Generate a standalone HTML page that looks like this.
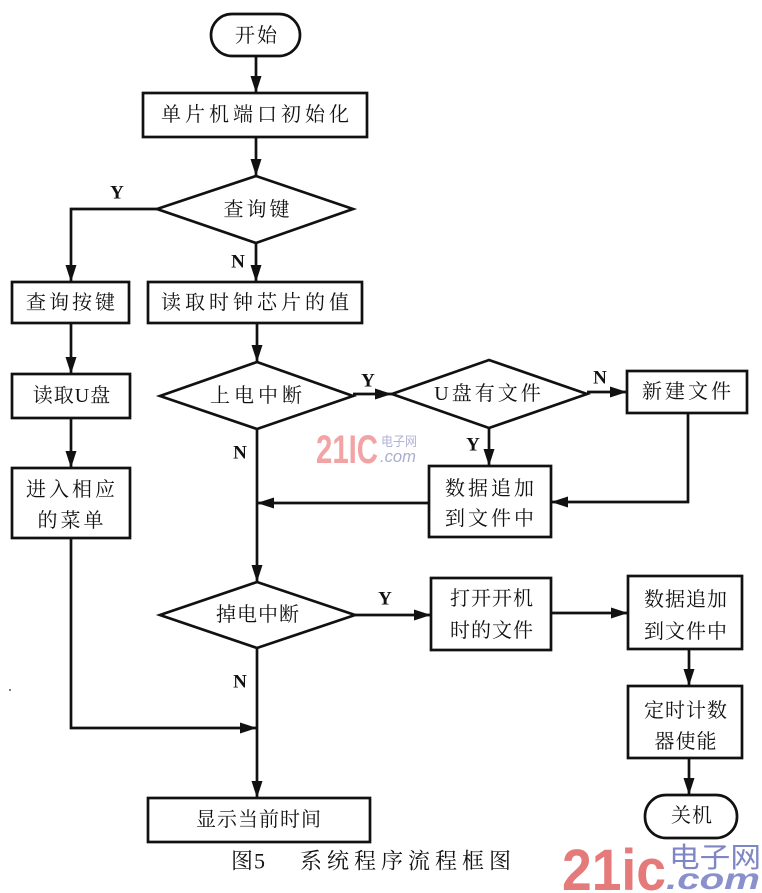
<!DOCTYPE html>
<html>
<head>
<meta charset="utf-8">
<style>
  html,body{margin:0;padding:0;background:#fff;}
  svg{display:block;}
  .t{font-family:"Liberation Serif","Noto Serif CJK SC","Noto Sans CJK SC",serif;font-size:20px;fill:#111;text-anchor:middle;dominant-baseline:central;letter-spacing:2px;}
  .l{font-family:"Liberation Serif",serif;font-size:19px;font-weight:bold;fill:#111;text-anchor:middle;dominant-baseline:central;}
  .cap{font-family:"Liberation Serif","Noto Serif CJK SC",serif;font-size:22px;fill:#111;dominant-baseline:central;letter-spacing:5px;}
</style>
</head>
<body>
<svg width="762" height="893" viewBox="0 0 762 893" xmlns="http://www.w3.org/2000/svg">
  <defs>
    <marker id="a" markerWidth="17" markerHeight="11" refX="17" refY="5.5" orient="auto" markerUnits="userSpaceOnUse">
      <path d="M0,0 L17,5.5 L0,11 Z" fill="#111"/>
    </marker>
  </defs>

  <!-- watermark middle -->
  <text x="316" y="463" font-family="Liberation Sans, sans-serif" font-weight="bold" font-size="40" fill="#f2a3a3" textLength="62" lengthAdjust="spacingAndGlyphs">21IC</text>
  <text x="381" y="446" font-family="Noto Sans CJK SC, sans-serif" font-size="13" fill="#b0b3d4" textLength="36" lengthAdjust="spacingAndGlyphs">电子网</text>
  <text x="380" y="462" font-family="Liberation Sans, sans-serif" font-style="italic" font-size="17" fill="#a9add2" textLength="36" lengthAdjust="spacingAndGlyphs">.com</text>

  <g stroke="#111" stroke-width="2.7" fill="none">
    <!-- start -->
    <rect x="211" y="14" width="89" height="42" rx="21" ry="21"/>
    <line x1="256" y1="56" x2="256" y2="93" marker-end="url(#a)"/>
    <rect x="143" y="93" width="224" height="44"/>
    <line x1="256" y1="137" x2="256" y2="176" marker-end="url(#a)"/>
    <polygon points="256,176 353,209 256,243 157,209"/>
    <!-- Y left -->
    <polyline points="157,209 71,209 71,282" marker-end="url(#a)"/>
    <line x1="256" y1="243" x2="256" y2="282" marker-end="url(#a)"/>
    <rect x="12" y="282" width="117" height="41"/>
    <rect x="148" y="282" width="214" height="41"/>
    <!-- left column -->
    <line x1="71" y1="323" x2="71" y2="374" marker-end="url(#a)"/>
    <rect x="12" y="374" width="118" height="44"/>
    <line x1="71" y1="418" x2="71" y2="468" marker-end="url(#a)"/>
    <rect x="12" y="468" width="118" height="70"/>
    <polyline points="71,538 71,728 257,728" marker-end="url(#a)"/>
    <!-- main -->
    <line x1="257" y1="323" x2="257" y2="362" marker-end="url(#a)"/>
    <polygon points="257,362 353,396 257,429 160,396"/>
    <line x1="353" y1="394" x2="392" y2="394" marker-end="url(#a)"/>
    <polygon points="489,360 587,394 489,428 392,394"/>
    <line x1="587" y1="392" x2="627" y2="392" marker-end="url(#a)"/>
    <rect x="627" y="371" width="120" height="42"/>
    <line x1="489" y1="428" x2="489" y2="466" marker-end="url(#a)"/>
    <rect x="429" y="466" width="122" height="71"/>
    <polyline points="688,413 688,502 551,502" marker-end="url(#a)"/>
    <line x1="429" y1="503" x2="257" y2="503" marker-end="url(#a)"/>
    <line x1="257" y1="429" x2="257" y2="582" marker-end="url(#a)"/>
    <polygon points="257,582 355,615 257,648 160,615"/>
    <line x1="355" y1="615" x2="431" y2="615" marker-end="url(#a)"/>
    <rect x="431" y="578" width="120" height="72"/>
    <line x1="551" y1="613" x2="628" y2="613" marker-end="url(#a)"/>
    <rect x="628" y="576" width="114" height="73"/>
    <line x1="689" y1="649" x2="689" y2="686" marker-end="url(#a)"/>
    <rect x="628" y="686" width="114" height="72"/>
    <line x1="689" y1="758" x2="689" y2="795" marker-end="url(#a)"/>
    <rect x="645" y="795" width="92" height="43" rx="21" ry="21"/>
    <line x1="257" y1="648" x2="257" y2="798" marker-end="url(#a)"/>
    <rect x="148" y="798" width="222" height="44"/>
  </g>

  <!-- labels -->
  <text class="t" x="257" y="36">开始</text>
  <text class="t" x="257" y="115" style="letter-spacing:4px">单片机端口初始化</text>
  <text class="t" x="258" y="210" style="letter-spacing:3px">查询键</text>
  <text class="t" x="72" y="303" style="letter-spacing:3px">查询按键</text>
  <text class="t" x="257" y="303" style="letter-spacing:4px">读取时钟芯片的值</text>
  <text class="t" x="72" y="396" style="letter-spacing:1px">读取U盘</text>
  <text class="t" x="72" y="490" style="letter-spacing:3px">进入相应</text>
  <text class="t" x="72" y="521" style="letter-spacing:3px">的菜单</text>
  <text class="t" x="258" y="396" style="letter-spacing:4px">上电中断</text>
  <text class="t" x="489" y="394" style="letter-spacing:3px">U盘有文件</text>
  <text class="t" x="688" y="392" style="letter-spacing:3px">新建文件</text>
  <text class="t" x="491" y="489" style="letter-spacing:3px">数据追加</text>
  <text class="t" x="491" y="519" style="letter-spacing:3px">到文件中</text>
  <text class="t" x="258" y="615" style="letter-spacing:1px">掉电中断</text>
  <text class="t" x="492" y="599" style="letter-spacing:1px">打开开机</text>
  <text class="t" x="492" y="631" style="letter-spacing:1px">时的文件</text>
  <text class="t" x="686" y="600" style="letter-spacing:1px">数据追加</text>
  <text class="t" x="686" y="632" style="letter-spacing:1px">到文件中</text>
  <text class="t" x="686" y="711" style="letter-spacing:1px">定时计数</text>
  <text class="t" x="686" y="742" style="letter-spacing:1px">器使能</text>
  <text class="t" x="692" y="816" style="letter-spacing:1px">关机</text>
  <text class="t" x="259" y="820" style="letter-spacing:1px">显示当前时间</text>

  <text class="l" x="117" y="193">Y</text>
  <text class="l" x="238" y="262">N</text>
  <text class="l" x="368" y="381">Y</text>
  <text class="l" x="600" y="378">N</text>
  <text class="l" x="473" y="445">Y</text>
  <text class="l" x="240" y="453">N</text>
  <text class="l" x="385" y="599">Y</text>
  <text class="l" x="240" y="682">N</text>

  <circle cx="10" cy="690" r="1" fill="#555"/>

  <!-- caption -->
  <text class="cap" x="231" y="861" style="letter-spacing:1px">图5</text>
  <text class="cap" x="300" y="861">系统程序流程框图</text>

  <!-- watermark bottom right -->
  <text x="562" y="890" font-family="Liberation Sans, sans-serif" font-weight="bold" font-size="58" fill="#e57a7a" textLength="104" lengthAdjust="spacingAndGlyphs">21ic</text>
  <text x="669" y="867" font-family="Noto Sans CJK SC, sans-serif" font-size="28" fill="#7f86c6" textLength="92" lengthAdjust="spacingAndGlyphs">电子网</text>
  <text x="666" y="889" font-family="Liberation Sans, sans-serif" font-weight="bold" font-style="italic" font-size="30" fill="#8a90cc" textLength="94" lengthAdjust="spacingAndGlyphs">.com</text>
</svg>
</body>
</html>
